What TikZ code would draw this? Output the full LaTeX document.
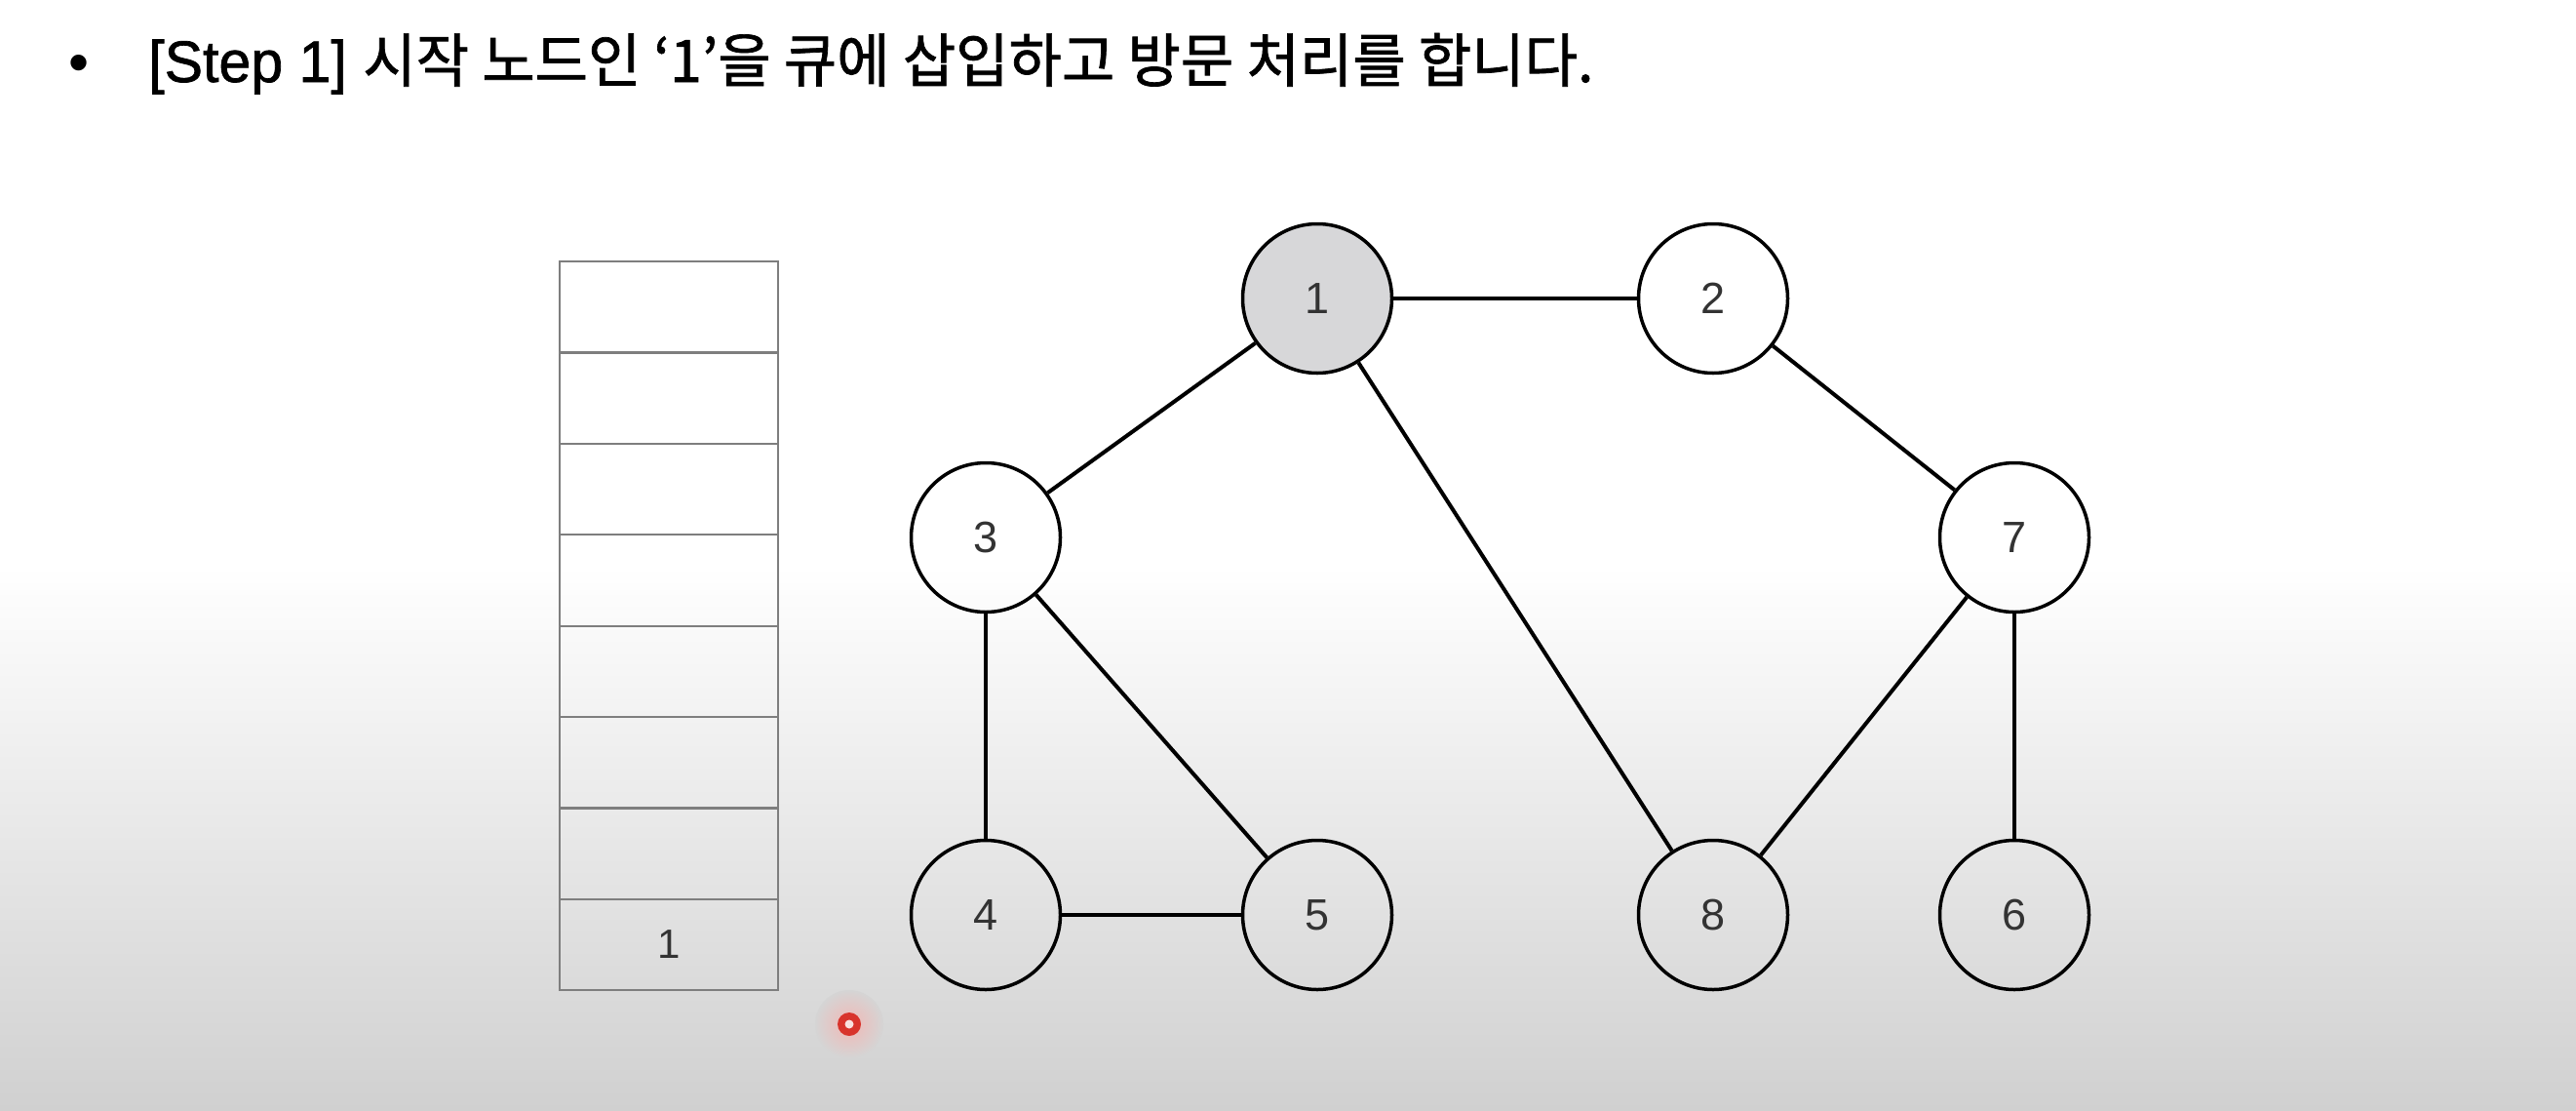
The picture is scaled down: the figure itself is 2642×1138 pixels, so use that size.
\documentclass[tikz,border=0pt]{standalone}
\usepackage{fontspec}
\usepackage{graphicx}
\setmainfont{Liberation Sans}
\newfontfamily\kr[FakeBold=1.2]{Noto Sans CJK KR}
\newfontfamily\lat[FakeBold=1.2]{Liberation Sans}
\definecolor{bgbot}{HTML}{D0D0D0}
\definecolor{visited}{HTML}{D7D7D9}
\definecolor{qline}{HTML}{7E7E7E}
\definecolor{labelc}{HTML}{333333}
\definecolor{cursorred}{HTML}{D8342C}
\tikzset{
  vtx/.style={circle, draw=black, line width=3.5pt, minimum size=153pt, inner sep=0pt,
    text=labelc, font=\fontsize{45}{45}\selectfont},
  vtxon/.style={vtx, fill=visited},
  qcell/.style={rectangle, draw=qline, line width=2.2pt, minimum width=224pt,
    minimum height=93.4pt, inner sep=0pt, text=labelc, font=\fontsize{42}{42}\selectfont},
  edge/.style={line width=4pt, black},
}
\begin{document}
\begin{tikzpicture}[x=1pt,y=-1pt]
\fill[white] (0,0) rectangle (2642,1138);
\shade[top color=white, bottom color=bgbot] (0,580) rectangle (2642,1138);
\useasboundingbox (0,0) rectangle (2642,1138);

% title
\node[anchor=base, font=\fontsize{60}{60}\selectfont] (bullet) at (81,84) {•};
\node[anchor=base west, inner sep=0pt, font=\fontsize{60}{60}\selectfont] (title) at (152,84)
  {\scalebox{0.985}[1]{{\lat [Step 1]} {\kr 시작 노드인 ‘1’을 큐에 삽입하고 방문 처리를 합니다.}}};

% queue
\foreach \i in {1,...,7} {
  \node[qcell] (q\i) at (686, {268+(\i-0.5)*93.4}) {};
}
\node[qcell] (q8) at (686, {268+7.5*93.4}) {1};

% graph nodes
\node[vtxon] (n1) at (1351,306) {1};
\node[vtx] (n2) at (1757,306) {2};
\node[vtx] (n3) at (1011,551) {3};
\node[vtx] (n7) at (2066,551) {7};
\node[vtx] (n4) at (1011,938) {4};
\node[vtx] (n5) at (1351,938) {5};
\node[vtx] (n8) at (1757,938) {8};
\node[vtx] (n6) at (2066,938) {6};

\draw[edge] (n1) -- (n2);
\draw[edge] (n1) -- (n3);
\draw[edge] (n1) -- (n8);
\draw[edge] (n2) -- (n7);
\draw[edge] (n3) -- (n4);
\draw[edge] (n3) -- (n5);
\draw[edge] (n4) -- (n5);
\draw[edge] (n7) -- (n8);
\draw[edge] (n7) -- (n6);

% pointer cursor
\node[circle, inner sep=0pt, minimum size=70pt, inner color=cursorred!35, outer color=bgbot!90!white] (glow) at (871,1050) {};
\node[circle, inner sep=0pt, minimum size=24pt, fill=cursorred] (cursor) at (871,1050) {};
\node[circle, inner sep=0pt, minimum size=9pt, fill=white!85!cursorred] (cursorc) at (871,1050) {};
\end{tikzpicture}
\end{document}
